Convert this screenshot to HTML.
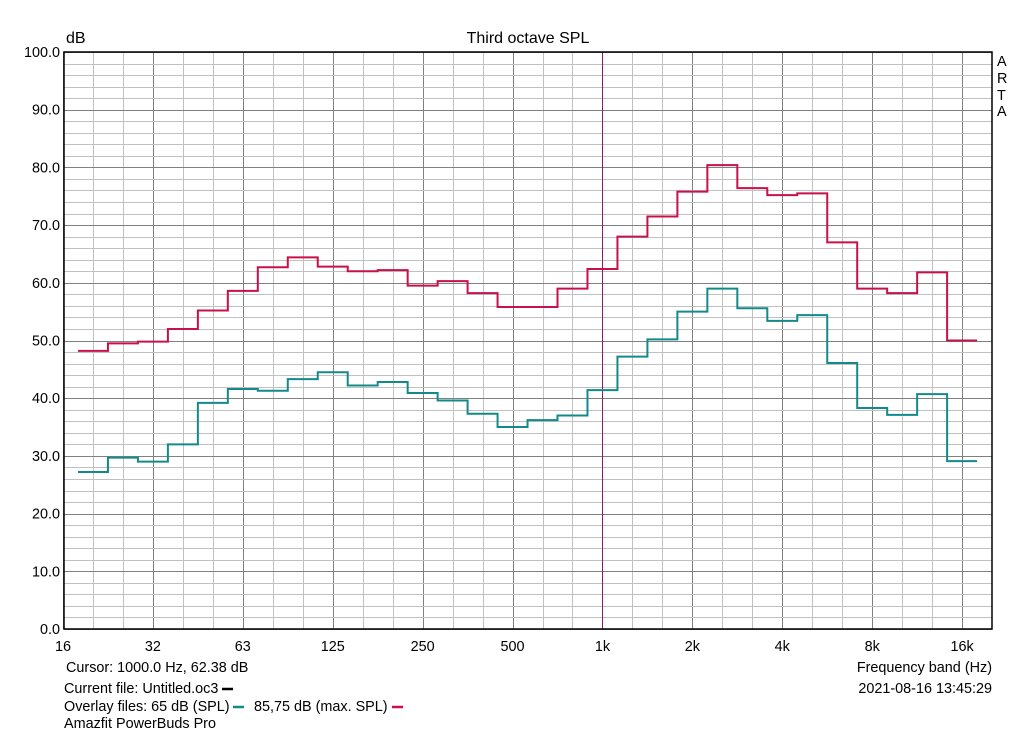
<!DOCTYPE html>
<html><head><meta charset="utf-8"><style>
body{margin:0;background:#fff;font-family:"Liberation Sans",sans-serif;}
svg text{font-family:"Liberation Sans",sans-serif;font-size:14.4px;fill:#000;}
</style></head><body>
<svg width="1024" height="735" xmlns="http://www.w3.org/2000/svg">
<g id="grid"></g>
<g id="ticks"></g>
<line x1="602.5" y1="52" x2="602.5" y2="629" stroke="#8b1a6b" stroke-width="1"/>
<g id="series"></g>
<rect x="64" y="52" width="928" height="577" fill="none" stroke="#000" stroke-width="1.5"/>
<text x="66" y="43" style="font-size:16px">dB</text>
<text x="528" y="43" text-anchor="middle" style="font-size:16px">Third octave SPL</text>
<g style="font-size:15px">
<text x="997" y="66">A</text><text x="997" y="83">R</text><text x="997" y="100">T</text><text x="997" y="116">A</text></g>
<text x="66" y="672">Cursor:  1000.0 Hz, 62.38 dB</text>
<text x="992" y="672" text-anchor="end">Frequency band (Hz)</text>
<text x="64" y="693">Current file: Untitled.oc3</text>
<line x1="222" y1="689" x2="233" y2="689" stroke="#000" stroke-width="2.5"/>
<text x="992" y="693" text-anchor="end">2021-08-16  13:45:29</text>
<text x="64" y="711">Overlay files: 65 dB (SPL)</text>
<line x1="233" y1="707" x2="244" y2="707" stroke="#138a8a" stroke-width="2.5"/>
<text x="254" y="711">85,75 dB (max. SPL)</text>
<line x1="392" y1="707" x2="403" y2="707" stroke="#c8104a" stroke-width="2.5"/>
<text x="64" y="728">Amazfit PowerBuds Pro</text>
</svg>
<script>
const xTickLabels=["16","32","63","125","250","500","1k","2k","4k","8k","16k"];
const yTickLabels=["0.0","10.0","20.0","30.0","40.0","50.0","60.0","70.0","80.0","90.0","100.0"];
const maxSpl=[48.2,49.5,49.8,52,55.2,58.6,62.7,64.4,62.8,62,62.2,59.5,60.3,58.2,55.8,55.8,59,62.4,68,71.5,75.8,80.4,76.4,75.2,75.5,67,59,58.2,61.8,50];
const spl65=[27.2,29.7,29,32,39.2,41.6,41.3,43.3,44.5,42.2,42.8,40.9,39.6,37.3,35,36.2,37,41.4,47.2,50.2,55,59,55.6,53.4,54.4,46.1,38.3,37.1,40.7,29.1];
const NS="http://www.w3.org/2000/svg";
const L=64,R=992,T=52,B=629;
const xs=i=>63+i*29.97;          // third-octave index from 16 Hz
const ys=v=>B-(v/100)*(B-T);
function mk(t,a,p){const e=document.createElementNS(NS,t);for(const k in a)e.setAttribute(k,a[k]);p.appendChild(e);return e;}
const grid=document.getElementById('grid'),ticks=document.getElementById('ticks'),ser=document.getElementById('series');
for(let i=0;i<=31;i++){const x=Math.round(xs(i))+0.5;if(x>R)break;
 const l=mk('line',{x1:x,x2:x,y1:T,y2:B,stroke:i%3==0?'#808080':'#c0c0c0'},grid);
 
 }
for(let v=0;v<=100;v+=2){const y=Math.round(ys(v))+0.5;
 const l=mk('line',{x1:L,x2:R,y1:y,y2:y,stroke:v%10==0?'#808080':'#c0c0c0'},grid);
 
 }
xTickLabels.forEach((s,i)=>{const t=mk('text',{x:xs(i*3),y:651,'text-anchor':'middle'},ticks);t.textContent=s;
 
 });
yTickLabels.forEach((s,i)=>{const t=mk('text',{x:60,y:ys(i*10)+5,'text-anchor':'end'},ticks);t.textContent=s;
 
 });
function step(vals,col,name){let d='';vals.forEach((v,i)=>{const x0=xs(i+0.5),x1=xs(i+1.5),y=ys(v);d+=(i?'L':'M')+x0+' '+y+'L'+x1+' '+y;});
 const p=mk('path',{d:d,fill:'none',stroke:col,'stroke-width':2},ser);
 
 }
step(spl65,'#138a8a','series-65db-spl');
step(maxSpl,'#c8104a','series-max-spl');
</script>
</body></html>
